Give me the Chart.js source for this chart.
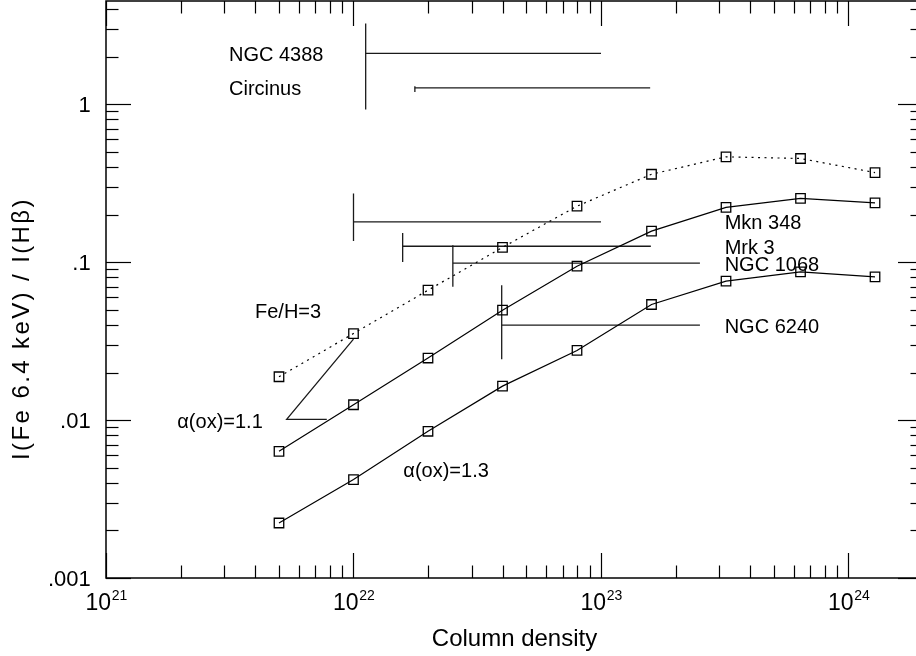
<!DOCTYPE html>
<html><head><meta charset="utf-8">
<script src="https://cdn.jsdelivr.net/npm/chart.js@4.4.1/dist/chart.umd.min.js"></script>
<style>
html,body{margin:0;padding:0;background:#fff;overflow:hidden;width:916px;height:656px}
#wrap{position:absolute;left:0;top:0;width:940px;height:656px}
</style></head><body><div id="wrap"><canvas id="c" width="940" height="656"></canvas></div>
<script>
// ---- data ----
const columnDensity = [5e21, 1e22, 2e22, 4e22, 8e22, 1.6e23, 3.2e23, 6.4e23, 1.28e24];
const feH3       = [0.0188, 0.0353, 0.0664, 0.124, 0.226, 0.360, 0.464, 0.453, 0.369];
const alphaOx11  = [0.00634, 0.0125, 0.0247, 0.0496, 0.0942, 0.157, 0.222, 0.253, 0.237];
const alphaOx13  = [0.00223, 0.00420, 0.00849, 0.0164, 0.0276, 0.0539, 0.0757, 0.0867, 0.0806];

const objectNames   = ['NGC 4388', 'Circinus', 'Mkn 348', 'Mrk 3', 'NGC 1068', 'NGC 6240'];
const objNHlow      = [1.12e22, 1.77e22, 1e22, 1.58e22, 2.52e22, 3.97e22];
const objNHhigh     = [1e23, 1.58e23, 1e23, 1.59e23, 2.51e23, 2.51e23];
const objRatio      = [2.095, 1.268, 0.180, 0.126, 0.0984, 0.0399];
const objRatioLow   = [0.926, 1.196, 0.136, 0.100, 0.0697, 0.0243];
const objRatioHigh  = [3.24, 1.30, 0.272, 0.153, 0.128, 0.0714];
const objLabelNH    = [3.14e21, 3.14e21, 3.16e23, 3.16e23, 3.16e23, 3.16e23];

const pointerNH    = [7.8e21, 5.37e21, 1e22];
const pointerRatio = [0.0101, 0.0101, 0.0325];

const xTickExponents = [21, 22, 23, 24];
const yTickValues = [1, 0.1, 0.01, 0.001];
const yTickLabels = ['1', '.1', '.01', '.001'];

const curveNotes = [
  {text: 'Fe/H=3',    nh: 4.0e21, ratio: 0.0496, align: 'left'},
  {text: 'α(ox)=1.1', nh: 4.3e21, ratio: 0.0100, align: 'right'},
  {text: 'α(ox)=1.3', nh: 1.59e22, ratio: 0.00486, align: 'left'}
];

const X_MIN = 1e21, X_MAX = 2e24, Y_MIN = 0.001, Y_MAX = 4.5;
const FONT = '"Liberation Sans", Arial, Helvetica, sans-serif';

// ---- datasets ----
const pts = (xs, ys) => xs.map((x, i) => ({x, y: ys[i]}));
const curveStyle = {
  showLine: true, borderColor: '#000', borderWidth: 1.2, pointStyle: 'rect',
  pointRadius: 6.7, pointBorderColor: '#000', pointBorderWidth: 1.3,
  pointBackgroundColor: 'rgba(0,0,0,0)', backgroundColor: 'rgba(0,0,0,0)', tension: 0
};
const datasets = [
  Object.assign({label: 'Fe/H=3', data: pts(columnDensity, feH3)}, curveStyle),
  Object.assign({label: 'α(ox)=1.1', data: pts(columnDensity, alphaOx11)}, curveStyle),
  Object.assign({label: 'α(ox)=1.3', data: pts(columnDensity, alphaOx13)}, curveStyle)
];
datasets[0].borderDash = [2, 4.5];
const segStyle = {showLine: true, borderColor: '#1a1a1a', borderWidth: 1.3, pointRadius: 0, backgroundColor: 'rgba(0,0,0,0)'};
objectNames.forEach((n, i) => {
  datasets.push(Object.assign({label: n + ' NH', data: [{x: objNHlow[i], y: objRatio[i]}, {x: objNHhigh[i], y: objRatio[i]}]}, segStyle));
  datasets.push(Object.assign({label: n + ' ratio', data: [{x: objNHlow[i], y: objRatioLow[i]}, {x: objNHlow[i], y: objRatioHigh[i]}]}, segStyle));
});
datasets.push(Object.assign({label: 'pointer', data: pts(pointerNH, pointerRatio)}, segStyle));

// ---- axes frame, inward ticks, labels ----
const frame = {
  id: 'frame',
  afterDraw(chart) {
    const ctx = chart.ctx, a = chart.chartArea, xs = chart.scales.x, ys = chart.scales.y;
    ctx.save();
    ctx.strokeStyle = '#000';
    const seg = (x1, y1, x2, y2) => { ctx.beginPath(); ctx.moveTo(x1, y1); ctx.lineTo(x2, y2); ctx.stroke(); };
    ctx.lineWidth = 1.2;
    for (let e = 21; e <= 24; e++) for (let m = 1; m <= 9; m++) {
      const v = m * Math.pow(10, e);
      if (v > X_MAX * 1.0001) break;
      const px = Math.round(xs.getPixelForValue(v)) + 0.5, L = m === 1 ? 25 : 12.5;
      seg(px, a.bottom, px, a.bottom - L);
      seg(px, a.top, px, a.top + L);
    }
    for (let e = -3; e <= 0; e++) for (let m = 1; m <= 9; m++) {
      const v = m * Math.pow(10, e);
      if (v > Y_MAX * 1.0001) break;
      const py = Math.round(ys.getPixelForValue(v)) + 0.5, L = m === 1 ? 25 : 12.5;
      seg(a.left, py, a.left + L, py);
      seg(a.right, py, a.right - L, py);
    }
    ctx.lineWidth = 1.5;
    ctx.strokeRect(a.left, a.top, a.right - a.left, a.bottom - a.top);

    ctx.fillStyle = '#000';
    ctx.textBaseline = 'alphabetic';
    // x tick labels 10^n
    xTickExponents.forEach(e => {
      const px = xs.getPixelForValue(Math.pow(10, e));
      ctx.font = '23px ' + FONT; const w10 = ctx.measureText('10').width;
      ctx.font = '14px ' + FONT; const ws = ctx.measureText(String(e)).width;
      const start = px - (w10 + ws) / 2;
      ctx.font = '23px ' + FONT; ctx.textAlign = 'left';
      ctx.fillText('10', start, a.bottom + 32);
      ctx.font = '14px ' + FONT;
      ctx.fillText(String(e), start + w10 + 0.7, a.bottom + 21.5);
    });
    // y tick labels
    ctx.font = '22px ' + FONT; ctx.textAlign = 'right';
    yTickValues.forEach((v, i) => {
      ctx.fillText(yTickLabels[i], a.left - 15.3, ys.getPixelForValue(v) + 8);
    });
    // axis titles
    ctx.font = '24px ' + FONT; ctx.textAlign = 'center';
    ctx.fillText('Column density', (a.left + a.right) / 2, 645.5);
    ctx.save();
    ctx.translate(29, 328.5); ctx.rotate(-Math.PI / 2);
    ctx.letterSpacing = '2.4px';
    ctx.fillText('I(Fe 6.4 keV) / I(Hβ)', 0, 0);
    ctx.restore();
    // object labels
    ctx.font = '20px ' + FONT; ctx.textAlign = 'left';
    objectNames.forEach((n, i) => {
      ctx.fillText(n, xs.getPixelForValue(objLabelNH[i]), ys.getPixelForValue(objRatio[i]) + 7.5);
    });
    curveNotes.forEach(c => {
      ctx.textAlign = c.align;
      ctx.fillText(c.text, xs.getPixelForValue(c.nh), ys.getPixelForValue(c.ratio) + 7.5);
    });
    ctx.restore();
  }
};

new Chart(document.getElementById('c'), {
  type: 'scatter',
  data: {datasets},
  options: {
    responsive: false, animation: false, devicePixelRatio: 1,
    layout: {autoPadding: false, padding: {left: 106, top: 1, right: 17, bottom: 78}},
    plugins: {legend: {display: false}, tooltip: {enabled: false}},
    scales: {
      x: {type: 'logarithmic', min: X_MIN, max: X_MAX, display: false},
      y: {type: 'logarithmic', min: Y_MIN, max: Y_MAX, display: false}
    }
  },
  plugins: [frame]
});
</script></body></html>
